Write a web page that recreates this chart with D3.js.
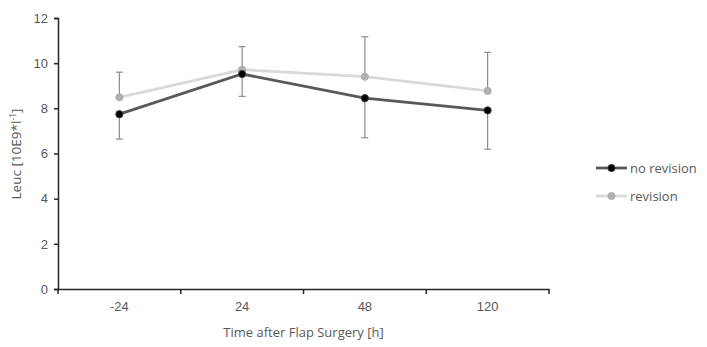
<!DOCTYPE html>
<html>
<head>
<meta charset="utf-8">
<script src="https://cdn.jsdelivr.net/npm/d3@7"></script>
<style>
  body { margin: 0; background: #fff; }
  svg { font-family: "Open Sans", "Liberation Sans", sans-serif; }
</style>
</head>
<body>
<svg id="chart" width="707" height="347"></svg>
<script>
// data
const categories = ["-24", "24", "48", "120"];
const noRevision = [7.74, 9.52, 8.45, 7.91];
const noRevisionSd = [1.10, 0.99, 1.75, 1.72];   // drawn downward
const revision = [8.49, 9.71, 9.40, 8.77];
const revisionSd = [1.11, 1.02, 1.77, 1.71];     // drawn upward
const yTicks = [0, 2, 4, 6, 8, 10, 12];

const svg = d3.select("#chart");
const plotLeft = 58, plotRight = 549, plotTop = 18, plotBottom = 289;

const x = d3.scaleBand().domain(categories).range([plotLeft, plotRight]);
const y = d3.scaleLinear().domain([0, 12]).range([plotBottom, plotTop]);
const cx = d => x(d) + x.bandwidth() / 2;

// y axis
const yAxis = svg.append("g")
  .attr("transform", `translate(${plotLeft},0)`)
  .call(d3.axisLeft(y).tickValues(yTicks).tickSize(4).tickPadding(6));
yAxis.select(".domain").attr("stroke", "#262626").attr("stroke-width", 1.5);
yAxis.selectAll(".tick line").attr("stroke", "#262626").attr("stroke-width", 1.5);
yAxis.selectAll(".tick text").attr("fill", "#595959").attr("font-size", 13);

// x axis
const xAxis = svg.append("g")
  .attr("transform", `translate(0,${plotBottom})`)
  .call(d3.axisBottom(x).tickSize(0).tickPadding(13));
xAxis.select(".domain").attr("stroke", "#262626").attr("stroke-width", 1.5);
xAxis.selectAll(".tick text").attr("fill", "#595959").attr("font-size", 13);
// boundary ticks between categories
svg.append("g").selectAll("line")
  .data(categories.concat(["end"]))
  .join("line")
  .attr("x1", (d, i) => i < categories.length ? x(d) : plotRight)
  .attr("x2", (d, i) => i < categories.length ? x(d) : plotRight)
  .attr("y1", plotBottom).attr("y2", plotBottom + 5)
  .attr("stroke", "#262626").attr("stroke-width", 1.5);

// axis titles
svg.append("text")
  .attr("x", (plotLeft + plotRight) / 2).attr("y", 337)
  .attr("text-anchor", "middle").attr("fill", "#595959").attr("font-size", 13)
  .text("Time after Flap Surgery [h]");

const yt = svg.append("text")
  .attr("transform", "translate(21,154) rotate(-90)")
  .attr("text-anchor", "middle").attr("fill", "#595959").attr("font-size", 13.5);
yt.append("tspan").text("Leuc [10E9*l");
yt.append("tspan").attr("font-size", 8.5).attr("dy", -5).text("-1");
yt.append("tspan").attr("dy", 5).text("]");

// error bars
function errorBars(vals, sd, dir) {
  const g = svg.append("g").attr("stroke", "#8c8c8c").attr("stroke-width", 1.2);
  categories.forEach((c, i) => {
    const y0 = y(vals[i]), y1 = y(vals[i] + dir * sd[i]);
    g.append("line").attr("x1", cx(c)).attr("x2", cx(c)).attr("y1", y0).attr("y2", y1);
    g.append("line").attr("x1", cx(c) - 3.5).attr("x2", cx(c) + 3.5).attr("y1", y1).attr("y2", y1);
  });
}
errorBars(revision, revisionSd, 1);
errorBars(noRevision, noRevisionSd, -1);

const line = d3.line().x((d, i) => cx(categories[i])).y(d => y(d));

function series(vals, lineColor, dotFill, dotStroke) {
  svg.append("path").datum(vals)
    .attr("d", line).attr("fill", "none")
    .attr("stroke", lineColor).attr("stroke-width", 2.8);
  svg.append("g").selectAll("circle").data(vals).join("circle")
    .attr("cx", (d, i) => cx(categories[i])).attr("cy", d => y(d))
    .attr("r", 3.6).attr("fill", dotFill).attr("stroke", dotStroke).attr("stroke-width", 1);
}
series(revision, "#d9d9d9", "#b0b0b0", "#b0b0b0");
series(noRevision, "#595959", "#000", "#3a3a3a");

// legend
const legend = [
  { name: "no revision", line: "#595959", fill: "#000", stroke: "#3a3a3a" },
  { name: "revision", line: "#d9d9d9", fill: "#b0b0b0", stroke: "#b0b0b0" }
];
const lg = svg.append("g").selectAll("g").data(legend).join("g")
  .attr("transform", (d, i) => `translate(596,${168 + i * 28})`);
lg.append("line").attr("x1", 0).attr("x2", 31).attr("y1", 0).attr("y2", 0)
  .attr("stroke", d => d.line).attr("stroke-width", 2.8);
lg.append("circle").attr("cx", 15.5).attr("cy", 0).attr("r", 3.6)
  .attr("fill", d => d.fill).attr("stroke", d => d.stroke);
lg.append("text").attr("x", 34).attr("y", 0).attr("dy", "0.35em")
  .attr("fill", "#595959").attr("font-size", 13).text(d => d.name);
</script>
</body>
</html>
